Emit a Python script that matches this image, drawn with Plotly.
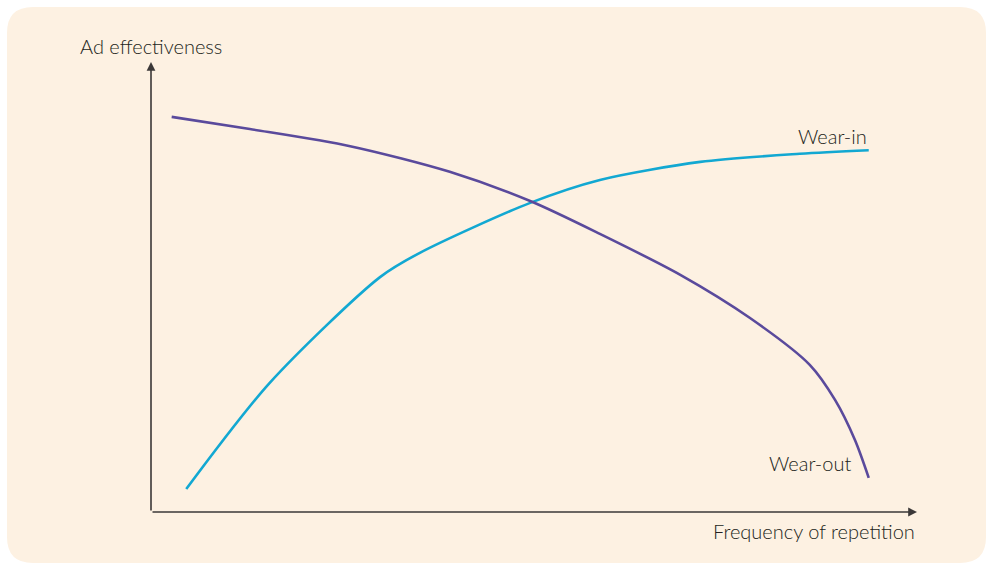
import plotly.graph_objects as go

# Conceptual data (frequency of repetition vs ad effectiveness, 0-100 scales)
wear_in_x = [4.6, 15.5, 29.9, 35.1, 49.5, 58.6, 71.7, 84.7, 93.7]
wear_in_y = [5.1, 28.7, 52.2, 57.6, 68.7, 73.8, 77.8, 79.6, 80.4]
wear_out_x = [2.7, 12.9, 26.0, 39.0, 49.5, 58.6, 69.1, 78.2, 86.0, 89.3, 91.9, 93.7]
wear_out_y = [87.8, 85.1, 81.3, 75.6, 69.1, 61.8, 52.7, 43.1, 32.7, 24.9, 16.0, 7.6]
series_labels = ["Wear-in", "Wear-out"]
x_title = "Frequency of repetition"
y_title = "Ad effectiveness"

W, H = 988, 565
BG = "#fdf1e2"
PURPLE = "#5a4a9c"
CYAN = "#12a8d2"
AXIS = "#3b3838"
TEXT = "#231f20"
FONT = "Lato, Open Sans, sans-serif"
FS = 20

x0, x1 = 151, 917   # pixel extents of plotting area
y0, y1 = 512, 62

fig = go.Figure()
fig.add_trace(go.Scatter(x=wear_in_x, y=wear_in_y, mode="lines",
                         line=dict(color=CYAN, width=2.6, shape="spline", smoothing=0.8),
                         name=series_labels[0], hoverinfo="skip"))
fig.add_trace(go.Scatter(x=wear_out_x, y=wear_out_y, mode="lines",
                         line=dict(color=PURPLE, width=2.6, shape="spline", smoothing=0.8),
                         name=series_labels[1], hoverinfo="skip"))

# rounded background rectangle in paper coordinates
L, R, T, B, r = 7, 986, 7, 563, 26
def px(x): return x / W
def py(y): return 1 - y / H
path = (f"M {px(L+r)} {py(T)} L {px(R-r)} {py(T)} Q {px(R)} {py(T)} {px(R)} {py(T+r)} "
        f"L {px(R)} {py(B-r)} Q {px(R)} {py(B)} {px(R-r)} {py(B)} "
        f"L {px(L+r)} {py(B)} Q {px(L)} {py(B)} {px(L)} {py(B-r)} "
        f"L {px(L)} {py(T+r)} Q {px(L)} {py(T)} {px(L+r)} {py(T)} Z")
shapes = [dict(type="path", path=path, xref="paper", yref="paper",
               fillcolor=BG, line=dict(width=0), layer="below")]

tf = dict(size=FS, color=TEXT, family=FONT, weight=300)
annotations = [
    # axes arrows
    dict(x=100, y=0, ax=0, ay=0, xref="x", yref="y", axref="x", ayref="y",
         showarrow=True, arrowhead=2, arrowsize=1.1, arrowwidth=1.6, arrowcolor=AXIS, text=""),
    dict(x=0, y=100, ax=0, ay=0, xref="x", yref="y", axref="x", ayref="y",
         showarrow=True, arrowhead=2, arrowsize=1.1, arrowwidth=1.6, arrowcolor=AXIS, text=""),
    dict(x=0, y=100, xref="x", yref="y", text=y_title, showarrow=False,
         xanchor="center", yanchor="bottom", yshift=2, font=tf),
    dict(x=100, y=0, xref="x", yref="y", text=x_title, showarrow=False,
         xanchor="right", yanchor="top", yshift=-5, font=tf),
    dict(x=wear_in_x[-1], y=wear_in_y[-1], xref="x", yref="y", text=series_labels[0],
         showarrow=False, xanchor="right", yanchor="bottom", yshift=0, font=tf),
    dict(x=wear_out_x[-1], y=wear_out_y[-1], xref="x", yref="y", text=series_labels[1],
         showarrow=False, xanchor="right", yanchor="bottom", xshift=-16, yshift=1, font=tf),
]

fig.update_layout(
    width=W, height=H,
    margin=dict(l=0, r=0, t=0, b=0),
    paper_bgcolor="white", plot_bgcolor="rgba(0,0,0,0)",
    showlegend=False,
    shapes=shapes, annotations=annotations,
    xaxis=dict(domain=[x0 / W, x1 / W], range=[0, 100], visible=False, fixedrange=True),
    yaxis=dict(domain=[1 - y0 / H, 1 - y1 / H], range=[0, 100], visible=False, fixedrange=True),
)

fig.write_html("out.html", config={"displayModeBar": False},
               post_script="document.body.style.margin='0';document.body.style.padding='0';")
